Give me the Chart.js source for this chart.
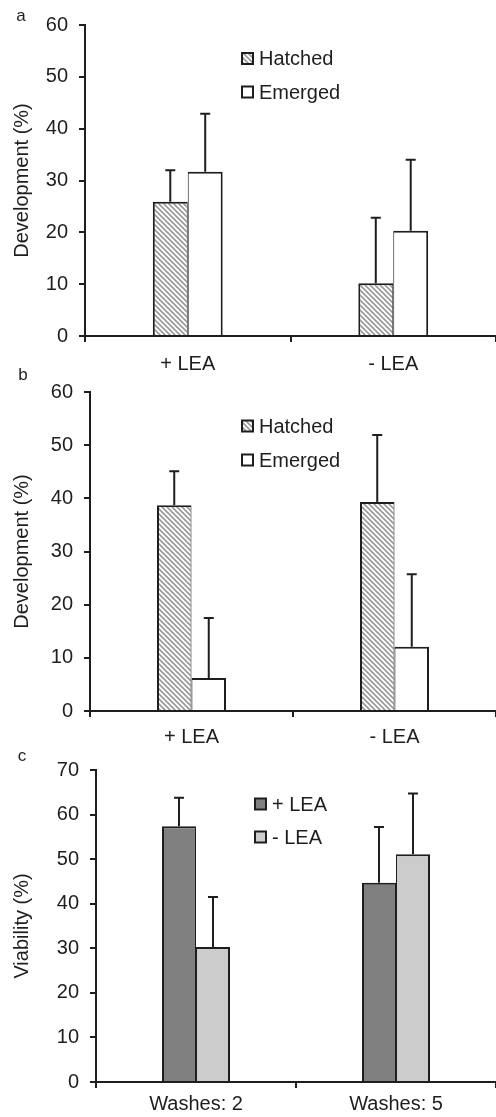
<!DOCTYPE html>
<html>
<head>
<meta charset="utf-8">
<script src="https://cdn.jsdelivr.net/npm/chart.js@4.4.1/dist/chart.umd.min.js"></script>
<style>
    body { margin: 0; background: #fff; }
    canvas { position: absolute; left: 0; }
</style>
</head>
<body>
<canvas id="chartA" width="496" height="378" style="top:0px"></canvas>
<canvas id="chartB" width="496" height="385" style="top:360px"></canvas>
<canvas id="chartC" width="496" height="372" style="top:745px"></canvas>
<script>
// categories
const devCategories = ['+ LEA', '- LEA'];
const washCategories = ['Washes: 2', 'Washes: 5'];

// panel a - development (%)
const hatchedA = [25.9, 10.2];
const hatchedErrA = [6.1, 12.6];
const emergedA = [31.7, 20.3];
const emergedErrA = [11.2, 13.7];

// panel b - development (%)
const hatchedB = [38.7, 39.3];
const hatchedErrB = [6.4, 12.6];
const emergedB = [6.2, 12.1];
const emergedErrB = [11.3, 13.6];

// panel c - viability (%)
const plusLea = [57.4, 44.7];
const plusLeaErr = [6.4, 12.5];
const minusLea = [30.3, 51.1];
const minusLeaErr = [11.2, 13.6];

const INK = '#1e1e1e';
Chart.defaults.font.family = "'Liberation Sans', Arial, sans-serif";
Chart.defaults.color = INK;

function makeHatch() {
    const size = 5;
    const c = document.createElement('canvas');
    c.width = size;
    c.height = size;
    const g = c.getContext('2d');
    g.fillStyle = '#ffffff';
    g.fillRect(0, 0, size, size);
    g.strokeStyle = '#9a9a9a';
    g.lineWidth = 1.7;
    for (let k = -size; k <= size; k += size) {
        g.beginPath();
        g.moveTo(k - 1, -1);
        g.lineTo(k + size + 1, size + 1);
        g.stroke();
    }
    return g.createPattern(c, 'repeat');
}
const hatch = makeHatch();

// error bars on top of each bar
const errorBarPlugin = {
    id: 'errorBars',
    afterDatasetsDraw(chart) {
        const ctx = chart.ctx;
        const yScale = chart.scales.y;
        ctx.save();
        ctx.strokeStyle = INK;
        ctx.lineWidth = 2;
        chart.data.datasets.forEach((ds, i) => {
            const meta = chart.getDatasetMeta(i);
            meta.data.forEach((bar, j) => {
                const top = yScale.getPixelForValue(ds.data[j] + ds.errors[j]);
                ctx.beginPath();
                ctx.moveTo(bar.x, bar.y);
                ctx.lineTo(bar.x, top);
                ctx.moveTo(bar.x - 5, top);
                ctx.lineTo(bar.x + 5, top);
                ctx.stroke();
            });
        });
        ctx.restore();
    }
};

// legend stacked inside the plot + panel letter
const boxLegendPlugin = {
    id: 'boxLegend',
    afterDraw(chart, args, opts) {
        const ctx = chart.ctx;
        ctx.save();
        chart.data.datasets.forEach((ds, i) => {
            const cy = opts.y + i * opts.gap;
            ctx.fillStyle = ds.backgroundColor;
            ctx.fillRect(opts.x, cy - 5.5, 11, 11);
            ctx.strokeStyle = INK;
            ctx.lineWidth = 2;
            ctx.strokeRect(opts.x, cy - 5.5, 11, 11);
            ctx.fillStyle = INK;
            ctx.font = "20px 'Liberation Sans', Arial, sans-serif";
            ctx.textBaseline = 'middle';
            ctx.textAlign = 'left';
            ctx.fillText(ds.label, opts.x + 17, cy + 1);
        });
        ctx.font = "17px 'Liberation Sans', Arial, sans-serif";
        ctx.textAlign = 'center';
        ctx.textBaseline = 'middle';
        ctx.fillText(opts.letter, opts.letterX, opts.letterY);
        ctx.restore();
    }
};

function BuildPanel(canvasId, p) {
    return new Chart(document.getElementById(canvasId), {
        type: 'bar',
        data: {
            labels: p.labels,
            datasets: [
                {
                    label: p.names[0],
                    data: p.values[0],
                    errors: p.errors[0],
                    backgroundColor: p.fills[0],
                    borderColor: INK,
                    borderWidth: { top: 2, left: 2, right: 1, bottom: 0 },
                    borderSkipped: false
                },
                {
                    label: p.names[1],
                    data: p.values[1],
                    errors: p.errors[1],
                    backgroundColor: p.fills[1],
                    borderColor: INK,
                    borderWidth: { top: 2, left: 1, right: 2, bottom: 0 },
                    borderSkipped: false
                }
            ]
        },
        options: {
            responsive: false,
            animation: false,
            categoryPercentage: 0.34,
            barPercentage: 1,
            layout: { padding: { top: p.top, left: 0, right: 0, bottom: 0 } },
            plugins: {
                legend: { display: false },
                tooltip: { enabled: false },
                boxLegend: p.legend
            },
            scales: {
                x: {
                    afterFit: (scale) => { scale.height = p.xHeight; },
                    grid: { drawOnChartArea: false, tickLength: 6, color: INK, lineWidth: 2 },
                    border: { color: INK, width: 2 },
                    ticks: { font: { size: 20 }, padding: p.xPad, maxRotation: 0, autoSkip: false }
                },
                y: {
                    min: 0,
                    max: p.yMax,
                    afterFit: (scale) => { scale.width = p.axisX; },
                    grid: { drawOnChartArea: false, tickLength: 6, color: INK, lineWidth: 2 },
                    border: { color: INK, width: 2 },
                    ticks: { stepSize: 10, font: { size: 20 }, padding: 11 },
                    title: {
                        display: true,
                        text: p.yTitle,
                        font: { size: 20 },
                        padding: { top: 10, bottom: 0 }
                    }
                }
            }
        },
        plugins: [errorBarPlugin, boxLegendPlugin]
    });
}

BuildPanel('chartA', {
    labels: devCategories,
    names: ['Hatched', 'Emerged'],
    values: [hatchedA, emergedA],
    errors: [hatchedErrA, emergedErrA],
    fills: [hatch, '#ffffff'],
    yMax: 60,
    yTitle: 'Development (%)',
    top: 25,
    axisX: 85,
    xHeight: 42,
    xPad: 10,
    legend: { x: 242, y: 58.5, gap: 33.5, letter: 'a', letterX: 21, letterY: 16 }
});

BuildPanel('chartB', {
    labels: devCategories,
    names: ['Hatched', 'Emerged'],
    values: [hatchedB, emergedB],
    errors: [hatchedErrB, emergedErrB],
    fills: [hatch, '#ffffff'],
    yMax: 60,
    yTitle: 'Development (%)',
    top: 32,
    axisX: 90,
    xHeight: 34,
    xPad: 8,
    legend: { x: 242, y: 66, gap: 34, letter: 'b', letterX: 23, letterY: 15 }
});

BuildPanel('chartC', {
    labels: washCategories,
    names: ['+ LEA', '- LEA'],
    values: [plusLea, minusLea],
    errors: [plusLeaErr, minusLeaErr],
    fills: ['#808080', '#cccccc'],
    yMax: 70,
    yTitle: 'Viability (%)',
    top: 25,
    axisX: 96,
    xHeight: 35,
    xPad: 4,
    legend: { x: 255, y: 59, gap: 33, letter: 'c', letterX: 22, letterY: 11 }
});
</script>
</body>
</html>
